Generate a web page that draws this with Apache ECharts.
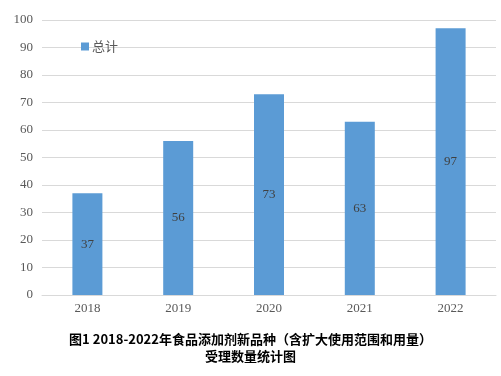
<!DOCTYPE html>
<html>
<head>
<meta charset="utf-8">
<script src="https://cdn.jsdelivr.net/npm/echarts@6/dist/echarts.min.js"></script>
<style>
html, body { margin: 0; padding: 0; background: #fff; }
#main { width: 501px; height: 376px; }
</style>
</head>
<body>
<div id="main"></div>
<script>
var years = ["2018", "2019", "2020", "2021", "2022"];
var totals = [37, 56, 73, 63, 97];
var seriesName = "总计";
var titleLines = ["图1 2018-2022年食品添加剂新品种（含扩大使用范围和用量）", "受理数量统计图"];

var myChart = echarts.init(document.getElementById("main"));
var option = {
  animation: false,
  title: {
    text: titleLines.join("\n"),
    left: "center",
    top: 326,
    textStyle: {
      fontFamily: "Noto Sans CJK SC",
      fontWeight: "bold",
      fontSize: 13,
      lineHeight: 17,
      color: "#000"
    }
  },
  legend: {
    data: [seriesName],
    left: 76,
    top: 35,
    itemWidth: 8,
    itemHeight: 8,
    itemGap: 4,
    icon: "rect",
    textStyle: {
      fontFamily: "Noto Sans CJK SC",
      fontSize: 13,
      color: "#595959",
      padding: [0, 0, 0, -2]
    }
  },
  grid: {
    left: 42,
    right: 5,
    top: 20,
    bottom: 81
  },
  xAxis: {
    type: "category",
    data: years,
    axisLine: { lineStyle: { color: "#d9d9d9" } },
    axisTick: { show: false },
    axisLabel: {
      color: "#595959",
      fontFamily: "Liberation Serif",
      fontSize: 13,
      margin: 7
    }
  },
  yAxis: {
    type: "value",
    min: 0,
    max: 100,
    interval: 10,
    axisLine: { show: false },
    axisTick: { show: false },
    axisLabel: {
      color: "#595959",
      fontFamily: "Liberation Serif",
      fontSize: 13,
      margin: 9
    },
    splitLine: { lineStyle: { color: "#d9d9d9", width: 1 } }
  },
  series: [
    {
      name: seriesName,
      type: "bar",
      data: totals,
      barWidth: 30,
      itemStyle: { color: "#5b9bd5" },
      label: {
        show: true,
        position: "inside",
        color: "#404040",
        fontFamily: "Liberation Serif",
        fontSize: 13
      }
    }
  ]
};
myChart.setOption(option);
window.addEventListener("resize", function () { myChart.resize(); });
</script>
</body>
</html>
